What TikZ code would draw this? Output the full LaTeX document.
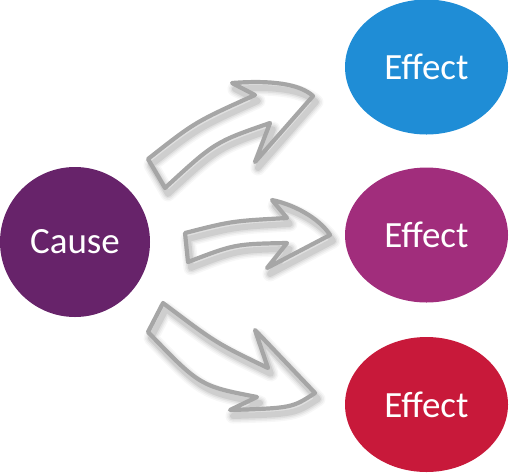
\documentclass[tikz,border=0pt]{standalone}
\usepackage{fontspec}
\setmainfont{Carlito}
\usetikzlibrary{shapes.geometric}
\definecolor{causecol}{HTML}{67236A}
\definecolor{effblue}{HTML}{1F8DD6}
\definecolor{effmag}{HTML}{A12D7C}
\definecolor{effred}{HTML}{C8193A}
\definecolor{arrowgray}{HTML}{A6A6A6}
\tikzset{
  blob/.style={inner sep=0pt, text=white, font=\fontsize{37}{43}\selectfont},
  causeblob/.style={blob, circle, fill=causecol, minimum size=150pt},
  effblob/.style={blob, ellipse, minimum width=163pt, minimum height=135pt},
  arrowline/.style={draw=arrowgray, line width=4.2pt, line join=round},
  shadowline/.style={draw=black, line join=round},
  arrowA/.pic={\path[pic actions] (148,159) .. controls (195,122) .. (255,95) -- (232,83)
      .. controls (272,80) and (300,84) .. (313,96) -- (255,162) -- (270,123)
      .. controls (215,142) .. (165,188) -- cycle;},
  arrowB/.pic={\path[pic actions] (185,233) .. controls (232,221) .. (287,218) -- (272,200)
      .. controls (300,206) and (322,222) .. (330,235) -- (267,268) -- (287,243)
      .. controls (235,244) .. (188,262) -- cycle;},
  arrowC/.pic={\path[pic actions] (163,303) .. controls (216,343) .. (268,368) -- (255,330)
      -- (315,393) .. controls (292,408) .. (230,410) -- (257,397)
      .. controls (200,386) .. (148,332) -- cycle;}
}
\begin{document}
\begin{tikzpicture}[x=1pt,y=-1pt]
\useasboundingbox (0,0) rectangle (510,472);
% shadows
\foreach \w/\o in {15/0.03,12/0.04,9/0.055,6/0.08}{
  \foreach \p in {arrowA,arrowB,arrowC}{
    \pic[shadowline, line width=\w pt, draw opacity=\o] at (3,6) {\p};
  }
}
% arrows
\pic[arrowline] at (0,0) {arrowA};
\pic[arrowline] at (0,0) {arrowB};
\pic[arrowline] at (0,0) {arrowC};
% nodes
\node[causeblob] (cause) at (75,242) {Cause};
\node[effblob, fill=effblue] (e1) at (426.5,67) {Effect};
\node[effblob, fill=effmag] (e2) at (426.5,235) {Effect};
\node[effblob, fill=effred] (e3) at (426.5,404.5) {Effect};
\end{tikzpicture}
\end{document}
